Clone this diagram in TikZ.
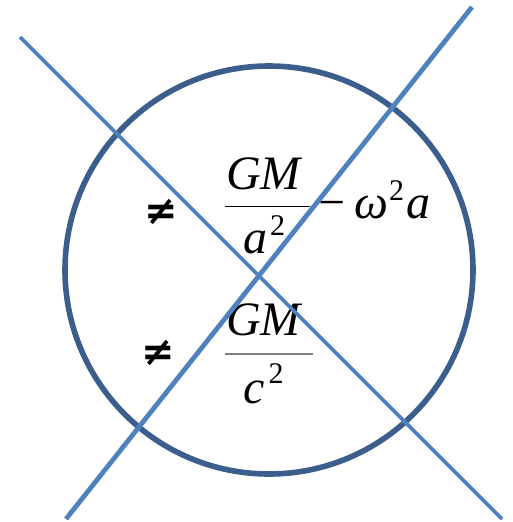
\documentclass[tikz,border=0pt]{standalone}
\usepackage{fontspec}
\setmainfont{Liberation Serif}
\newfontfamily\symfont{DejaVu Sans}
\definecolor{ringblue}{HTML}{3B5E8C}
\definecolor{crossblue}{HTML}{4F81BD}
% upright superscript two
\newcommand{\suptwo}[1]{\raisebox{#1}{\fontsize{30}{30}\selectfont\upshape 2}}

\begin{document}
\begin{tikzpicture}[x=1pt, y=-1pt,
    big/.style={inner sep=0pt, font=\fontsize{48}{48}\selectfont\itshape},
    neq/.style={inner sep=0pt, font=\fontsize{40}{40}\selectfont\symfont\bfseries},
    ring/.style={draw=ringblue, line width=5.6pt},
    cross/.style={draw=crossblue}
  ]
    \useasboundingbox (0,0) rectangle (512,522);
    \coordinate (nw) at (20,37);
    \coordinate (se) at (502,519);
    \coordinate (sw) at (66,519);
    \coordinate (ne) at (472,7);
    % left hand side
    \node[neq] (neqtop) at (161,212) {≠};
    \node[neq] (neqbot) at (158,353) {≠};
    % first fraction
    \node[big, anchor=base west] (numtop) at (226,189) {GM};
    \node[big, anchor=base west] (dentop) at (243,253) {a\kern3pt\suptwo{18pt}};
    \draw[line width=1pt] (225,206) -- (310,206);
    \node[big, anchor=base west] (rest) at (318,218) {\upshape−\itshape\kern9ptω\kern1pt\suptwo{18pt}\kern2pta};
    % second fraction
    \node[big, anchor=base west] (numbot) at (226,335) {GM};
    \node[big, anchor=base west] (denbot) at (243,403) {c\kern4pt\suptwo{20pt}};
    \draw[line width=1.2pt, gray] (225,354) -- (313,354);
    % ring and cross
    \draw[ring] (269,270) circle (204);
    \draw[cross, line width=3.8pt] (nw) -- (se);
    \draw[cross, line width=4.8pt] (sw) -- (ne);
  \end{tikzpicture}
\end{document}
